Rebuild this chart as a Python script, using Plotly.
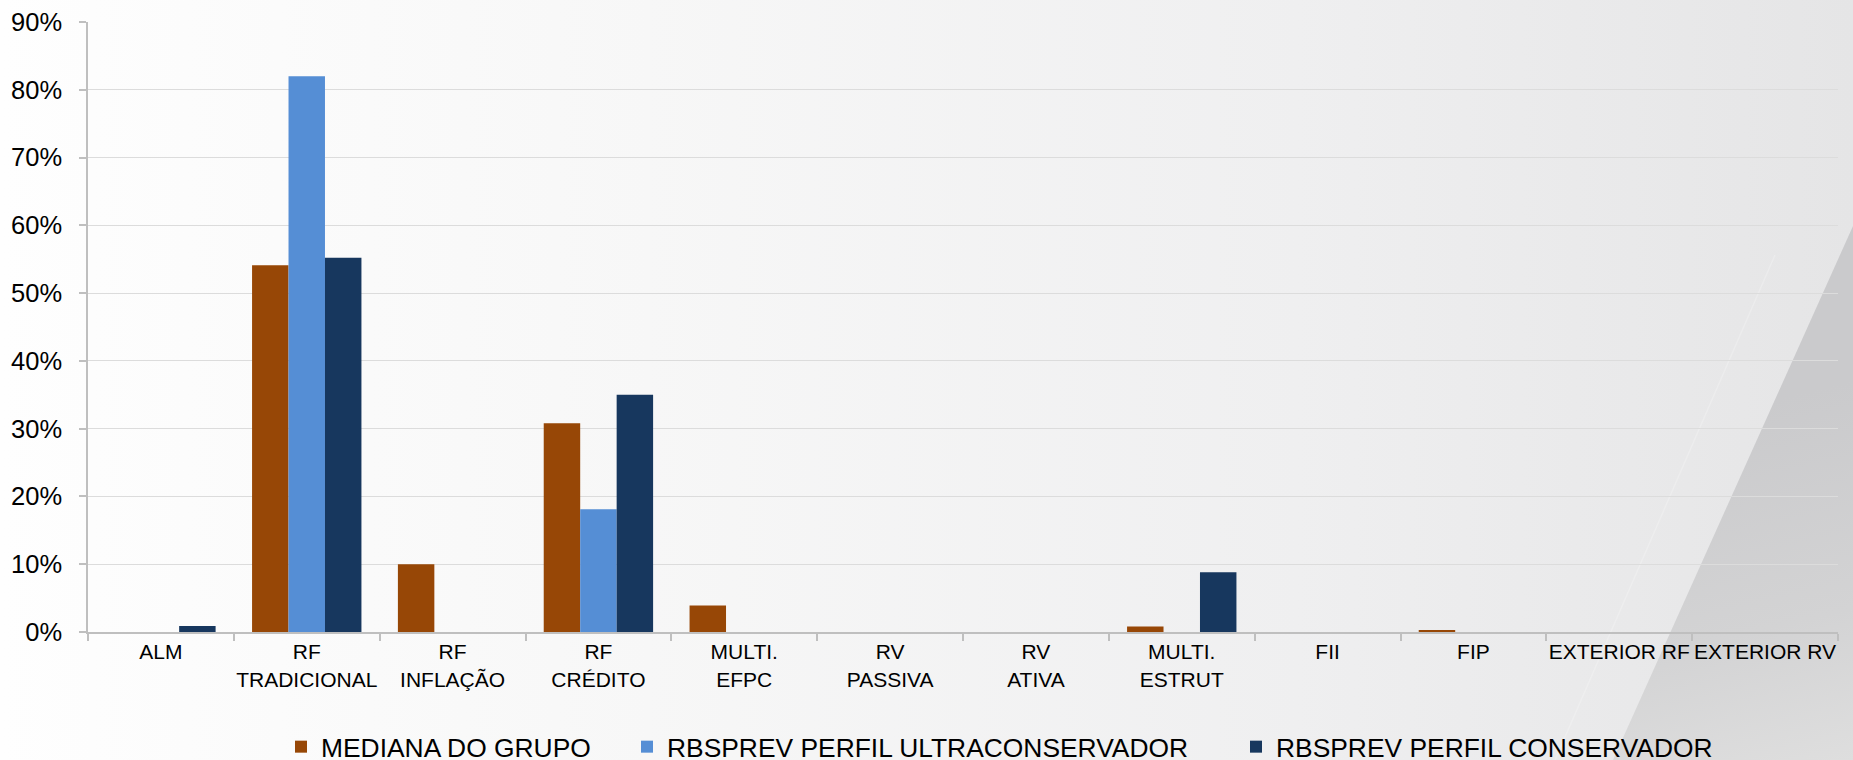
import urllib.parse
import plotly.graph_objects as go

# Categories (two-line tick labels) and allocation per profile, in %
categories = ["ALM", "RF<br>TRADICIONAL", "RF<br>INFLAÇÃO", "RF<br>CRÉDITO",
              "MULTI.<br>EFPC", "RV<br>PASSIVA", "RV<br>ATIVA", "MULTI.<br>ESTRUT",
              "FII", "FIP", "EXTERIOR RF", "EXTERIOR RV"]
mediana_grupo = [0.0, 54.1, 10.0, 30.8, 3.9, 0.0, 0.0, 0.8, 0.0, 0.15, 0.0, 0.0]
ultraconservador = [0.0, 82.0, 0.0, 18.1, 0.0, 0.0, 0.0, 0.0, 0.0, 0.0, 0.0, 0.0]
conservador = [0.9, 55.2, 0.0, 35.0, 0.0, 0.0, 0.0, 8.8, 0.0, 0.0, 0.0, 0.0]

series_names = ["MEDIANA DO GRUPO", "RBSPREV PERFIL ULTRACONSERVADOR",
                "RBSPREV PERFIL CONSERVADOR"]
series_values = [mediana_grupo, ultraconservador, conservador]
series_colors = ["#974706", "#558ED5", "#17375E"]

y_tick_values = [0, 10, 20, 30, 40, 50, 60, 70, 80, 90]
y_tick_labels = ["0%", "10%", "20%", "30%", "40%", "50%", "60%", "70%", "80%", "90%"]

W, H = 1853, 760
ML, MR, MT, MB = 88, 15, 22, 128
PW, PH = W - ML - MR, H - MT - MB
FONT = "Liberation Sans, Arial, sans-serif"

# Soft grey slide background with a diagonal shaded wedge at the lower right
bg_svg = f"""<svg xmlns='http://www.w3.org/2000/svg' width='{W}' height='{H}' viewBox='0 0 {W} {H}' preserveAspectRatio='none'>
<defs>
<linearGradient id='g' x1='0' y1='0' x2='1' y2='0'>
<stop offset='0' stop-color='#fefefe'/>
<stop offset='0.35' stop-color='#f7f7f7'/>
<stop offset='0.7' stop-color='#efeff0'/>
<stop offset='1' stop-color='#e5e5e6'/>
</linearGradient>
<linearGradient id='w' gradientUnits='userSpaceOnUse' x1='1770' y1='400' x2='1853' y2='760'>
<stop offset='0' stop-color='#cacacc'/>
<stop offset='0.6' stop-color='#d3d3d4'/>
<stop offset='1' stop-color='#dedede'/>
</linearGradient>
</defs>
<rect width='{W}' height='{H}' fill='url(#g)'/>
<polygon points='1853,226 1613,760 1853,760' fill='url(#w)'/>
<line x1='1775' y1='255' x2='1555' y2='760' stroke='#ffffff' stroke-opacity='0.22' stroke-width='1.5'/>
</svg>"""
bg_uri = "data:image/svg+xml;charset=utf-8," + urllib.parse.quote(bg_svg)

fig = go.Figure()
legend_ids = ["legend", "legend2", "legend3"]
for name, vals, color, lg in zip(series_names, series_values, series_colors, legend_ids):
    fig.add_trace(go.Bar(
        x=categories, y=vals, name=name, legend=lg,
        marker=dict(color=color, line=dict(width=0)),
    ))

legend_text_x = [322, 668, 1277]
legend_common = dict(
    orientation="h", xref="container", yref="container",
    xanchor="left", yanchor="middle", y=(H - 747) / H,
    bgcolor="rgba(0,0,0,0)", borderwidth=0, itemwidth=30,
    font=dict(family=FONT, size=26.4, color="#000000"),
)
legend_layout = {}
for lg, tx in zip(legend_ids, legend_text_x):
    legend_layout[lg] = dict(legend_common, x=(tx - 41) / W)

fig.update_layout(
    width=W, height=H,
    margin=dict(l=ML, r=MR, t=MT, b=MB, pad=0, autoexpand=False),
    paper_bgcolor="#ffffff",
    plot_bgcolor="rgba(0,0,0,0)",
    barmode="group", bargap=0.25, bargroupgap=0,
    showlegend=True,
    font=dict(family=FONT, color="#000000"),
    images=[dict(source=bg_uri, xref="paper", yref="paper",
                 x=-ML / PW, y=1 + MT / PH, sizex=W / PW, sizey=H / PH,
                 xanchor="left", yanchor="top", sizing="stretch", layer="below")],
    **legend_layout,
)

fig.update_xaxes(
    type="category", tickson="boundaries", tickangle=0, automargin=False,
    showline=True, linecolor="#bfbfbf", linewidth=2,
    ticks="outside", ticklen=7, tickcolor="#bfbfbf", tickwidth=1.5,
    showgrid=False, zeroline=False,
    tickfont=dict(family=FONT, size=21, color="#000000"),
)
fig.update_yaxes(
    range=[0, 90], tickmode="array", tickvals=y_tick_values, ticktext=y_tick_labels,
    automargin=False,
    showline=True, linecolor="#bfbfbf", linewidth=1.5,
    ticks="outside", ticklen=7, tickcolor="#bfbfbf", tickwidth=1.5,
    showgrid=True, gridcolor="#dcdcdc", gridwidth=1.3,
    zeroline=False, ticklabelstandoff=12,
    tickfont=dict(family=FONT, size=25.5, color="#000000"),
)

fig.write_html("out.html")
